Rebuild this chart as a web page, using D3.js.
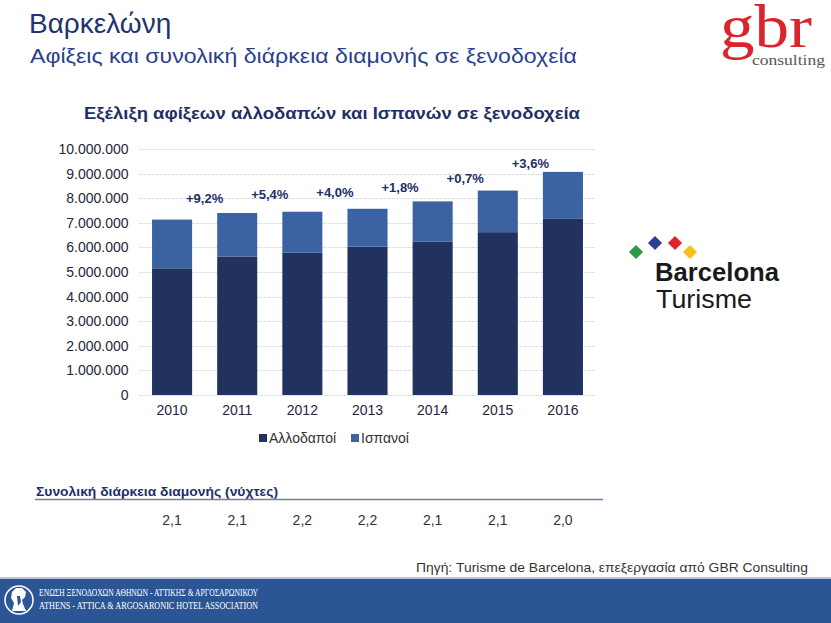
<!DOCTYPE html>
<html>
<head>
<meta charset="utf-8">
<script src="https://cdn.jsdelivr.net/npm/d3@7"></script>
<style>
  html, body { margin: 0; padding: 0; background: #fff; }
  svg { display: block; }
</style>
</head>
<body>
<svg id="chart" width="831" height="623"></svg>
<script>
// ---------- DATA ----------
const years = ["2010", "2011", "2012", "2013", "2014", "2015", "2016"];
const foreignArrivals = [5150000, 5630000, 5790000, 6030000, 6230000, 6620000, 7160000];
const spanishArrivals = [1980000, 1770000, 1660000, 1540000, 1640000, 1690000, 1910000];
const growthLabels = ["+9,2%", "+5,4%", "+4,0%", "+1,8%", "+0,7%", "+3,6%"];
const stayNights = ["2,1", "2,1", "2,2", "2,2", "2,1", "2,1", "2,0"];
const yTicks = [0, 1000000, 2000000, 3000000, 4000000, 5000000, 6000000, 7000000, 8000000, 9000000, 10000000];
const seriesNames = ["Αλλοδαποί", "Ισπανοί"];

const colDark = "#22325f";
const colLight = "#3b63a1";
const navy = "#1f2f66";

const svg = d3.select("#chart");
const font = "'Liberation Sans', Arial, sans-serif";
const serif = "'Liberation Serif', 'DejaVu Serif', serif";

// ---------- HEADER ----------
svg.append("text").attr("x", 29).attr("y", 33)
  .attr("font-family", font).attr("font-size", 28).attr("fill", "#22336e")
  .text("Βαρκελώνη");
svg.append("text").attr("x", 30).attr("y", 63)
  .attr("font-family", font).attr("font-size", 21).attr("fill", "#2b3f8c")
  .attr("textLength", 547).attr("lengthAdjust", "spacingAndGlyphs")
  .text("Αφίξεις και συνολική διάρκεια διαμονής σε ξενοδοχεία");

// gbr logo
svg.append("text").attr("x", 720).attr("y", 47)
  .attr("font-family", serif).attr("font-size", 62)
  .attr("fill", "#d9252b").attr("textLength", 92).attr("lengthAdjust", "spacingAndGlyphs")
  .text("gbr");
svg.append("text").attr("x", 752).attr("y", 65)
  .attr("font-family", serif).attr("font-size", 14)
  .attr("fill", "#555").attr("textLength", 73).attr("lengthAdjust", "spacingAndGlyphs")
  .text("consulting");

// Chart title
svg.append("text").attr("x", 332).attr("y", 119).attr("text-anchor", "middle")
  .attr("font-family", font).attr("font-size", 17).attr("font-weight", "bold")
  .attr("fill", navy).attr("textLength", 496).attr("lengthAdjust", "spacingAndGlyphs")
  .text("Εξέλιξη αφίξεων αλλοδαπών και Ισπανών σε ξενοδοχεία");

// ---------- CHART ----------
const x = d3.scaleBand().domain(years).range([139.5, 595.5])
  .paddingInner(0.385).paddingOuter(0.1925);
const y = d3.scaleLinear().domain([0, 10000000]).range([395, 149]);

const loc = d3.formatLocale({decimal: ",", thousands: ".", grouping: [3], currency: ["", "€"]});
const fmt = loc.format(",d");

// gridlines
svg.append("g").selectAll("line").data(yTicks).join("line")
  .attr("x1", 139.5).attr("x2", 595.5)
  .attr("y1", d => Math.round(y(d)) + 0.5).attr("y2", d => Math.round(y(d)) + 0.5)
  .attr("stroke", "#d3dde6").attr("stroke-width", 1).attr("stroke-dasharray", "3,1");

// y axis
const yAxis = svg.append("g").attr("transform", "translate(139.5,0)")
  .call(d3.axisLeft(y).tickValues(yTicks).tickFormat(fmt).tickSize(0).tickPadding(11));
yAxis.select(".domain").remove();
yAxis.selectAll("text").attr("font-family", font).attr("font-size", 14).attr("fill", "#26263a");

// x axis
const xAxis = svg.append("g").attr("transform", "translate(0,395)")
  .call(d3.axisBottom(x).tickSize(0).tickPadding(10));
xAxis.select(".domain").remove();
xAxis.selectAll("text").attr("font-family", font).attr("font-size", 14).attr("fill", "#26263a");

// stacked bars
const rows = years.map((yr, i) => ({year: yr, foreign: foreignArrivals[i], spanish: spanishArrivals[i]}));
const stack = d3.stack().keys(["foreign", "spanish"])(rows);
const colors = [colDark, colLight];
svg.append("g").selectAll("g").data(stack).join("g")
  .attr("fill", (d, i) => colors[i])
  .selectAll("rect").data(d => d).join("rect")
  .attr("x", d => x(d.data.year))
  .attr("width", x.bandwidth())
  .attr("y", d => y(d[1]))
  .attr("height", d => y(d[0]) - y(d[1]));

// growth labels between bars
const totals = rows.map(r => r.foreign + r.spanish);
svg.append("g").selectAll("text").data(growthLabels).join("text")
  .attr("x", (d, i) => (x(years[i]) + x(years[i + 1])) / 2 + x.bandwidth() / 2)
  .attr("y", (d, i) => (y(totals[i]) + y(totals[i + 1])) / 2 - 13)
  .attr("text-anchor", "middle")
  .attr("font-family", font).attr("font-size", 13).attr("font-weight", "bold")
  .attr("fill", navy)
  .text(d => d);

// legend
const legend = svg.append("g").attr("transform", "translate(259,438)");
const legItems = [{name: seriesNames[0], color: colDark, dx: 0}, {name: seriesNames[1], color: colLight, dx: 92}];
legItems.forEach(it => {
  const g = legend.append("g").attr("transform", `translate(${it.dx},0)`);
  g.append("rect").attr("x", 0).attr("y", -4).attr("width", 8).attr("height", 8).attr("fill", it.color);
  g.append("text").attr("x", 10).attr("y", 5)
    .attr("font-family", font).attr("font-size", 14).attr("fill", "#333")
    .text(it.name);
});

// ---------- Barcelona Turisme logo ----------
const diamonds = [
  {cx: 636, cy: 252, c: "#2e9a45"},
  {cx: 655, cy: 243, c: "#2c3f95"},
  {cx: 675, cy: 243, c: "#e0232d"},
  {cx: 690, cy: 252, c: "#f5c21a"}
];
svg.append("g").selectAll("rect").data(diamonds).join("rect")
  .attr("x", -5).attr("y", -5).attr("width", 10).attr("height", 10)
  .attr("transform", d => `translate(${d.cx},${d.cy}) rotate(45)`)
  .attr("fill", d => d.c);
svg.append("text").attr("x", 655).attr("y", 281)
  .attr("font-family", font).attr("font-size", 25).attr("font-weight", "bold").attr("fill", "#1a1a1a")
  .attr("textLength", 124).attr("lengthAdjust", "spacingAndGlyphs")
  .text("Barcelona");
svg.append("text").attr("x", 656).attr("y", 308)
  .attr("font-family", font).attr("font-size", 25).attr("fill", "#1a1a1a")
  .attr("textLength", 96).attr("lengthAdjust", "spacingAndGlyphs")
  .text("Turisme");

// ---------- Stay table ----------
svg.append("text").attr("x", 36).attr("y", 496)
  .attr("font-family", font).attr("font-size", 13.5).attr("font-weight", "bold").attr("fill", navy)
  .attr("textLength", 242).attr("lengthAdjust", "spacingAndGlyphs")
  .text("Συνολική διάρκεια διαμονής (νύχτες)");
svg.append("line").attr("x1", 35).attr("x2", 603).attr("y1", 499.5).attr("y2", 499.5)
  .attr("stroke", "#7a7f9e").attr("stroke-width", 1.5);
svg.append("g").selectAll("text").data(stayNights).join("text")
  .attr("x", (d, i) => x(years[i]) + x.bandwidth() / 2)
  .attr("y", 525)
  .attr("text-anchor", "middle")
  .attr("font-family", font).attr("font-size", 14).attr("fill", "#333")
  .text(d => d);

// source
svg.append("text").attr("x", 808).attr("y", 572).attr("text-anchor", "end")
  .attr("font-family", font).attr("font-size", 13.5).attr("fill", "#333")
  .attr("textLength", 392).attr("lengthAdjust", "spacingAndGlyphs")
  .text("Πηγή: Turisme de Barcelona, επεξεργασία από GBR Consulting");

// ---------- Footer ----------
svg.append("rect").attr("x", 0).attr("y", 577).attr("width", 831).attr("height", 2).attr("fill", "#b9c8e0");
svg.append("rect").attr("x", 0).attr("y", 579).attr("width", 831).attr("height", 44).attr("fill", "#2c5596");
svg.append("circle").attr("cx", 19).attr("cy", 600).attr("r", 14)
  .attr("fill", "none").attr("stroke", "#fff").attr("stroke-width", 1.5);
svg.append("path")
  .attr("d", "M12,611 L14,603 L11,598 L12,592 L16,588 L22,588 L26,592 L25,597 L22,600 L23,604 L26,611 Z")
  .attr("fill", "#fff");
svg.append("path").attr("d", "M17,596 L20,596 L21,602 L18,606 Z").attr("fill", "#2c5596");
svg.append("text").attr("x", 39).attr("y", 596)
  .attr("font-family", serif).attr("font-size", 9.5).attr("fill", "#fff")
  .attr("textLength", 219).attr("lengthAdjust", "spacingAndGlyphs")
  .text("ΕΝΩΣΗ ΞΕΝΟΔΟΧΩΝ ΑΘΗΝΩΝ - ΑΤΤΙΚΗΣ & ΑΡΓΟΣΑΡΩΝΙΚΟΥ");
svg.append("text").attr("x", 39).attr("y", 609)
  .attr("font-family", serif).attr("font-size", 9.5).attr("fill", "#fff")
  .attr("textLength", 219).attr("lengthAdjust", "spacingAndGlyphs")
  .text("ATHENS - ATTICA & ARGOSARONIC HOTEL ASSOCIATION");
</script>
</body>
</html>
